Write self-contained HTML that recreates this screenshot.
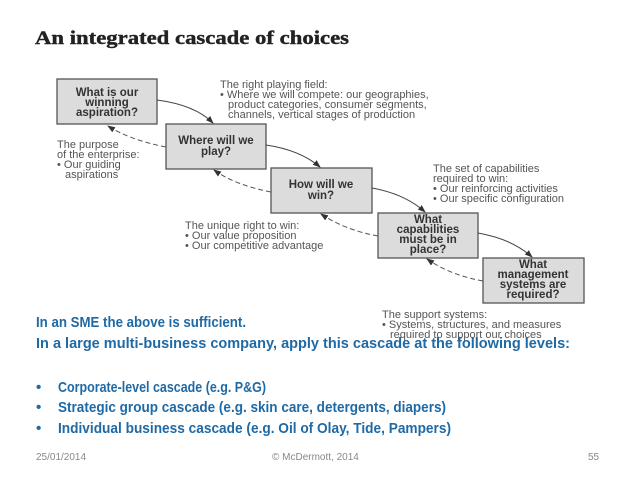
<!DOCTYPE html>
<html><head><meta charset="utf-8"><style>
html,body{margin:0;padding:0;background:#fff;}
svg{display:block}
.a{font-family:"Liberation Sans",sans-serif;font-size:11px;fill:#555;}
.b{font-family:"Liberation Sans",sans-serif;font-size:11.5px;font-weight:bold;fill:#333;text-anchor:middle;}
.c{font-family:"Liberation Sans",sans-serif;font-size:15px;font-weight:bold;fill:#1f6aa5;}
.f{font-family:"Liberation Sans",sans-serif;font-size:10px;fill:#888;}
</style></head><body>
<svg width="638" height="479" viewBox="0 0 638 479" xmlns="http://www.w3.org/2000/svg">
<defs><marker id="m" markerWidth="8" markerHeight="8" refX="7" refY="4" orient="auto" markerUnits="userSpaceOnUse"><path d="M0,1 L8,4 L0,7 z" fill="#333"/></marker></defs>
<text x="35" y="44" font-family="Liberation Serif,serif" font-weight="bold" font-size="19" fill="#222" textLength="314" lengthAdjust="spacingAndGlyphs" stroke="#222" stroke-width="0.4">An integrated cascade of choices</text>
<g fill="#dcdcdc" stroke="#555" stroke-width="1.3">
<rect x="57" y="79" width="100" height="45"/>
<rect x="166" y="124" width="100" height="45"/>
<rect x="271" y="168" width="101" height="45"/>
<rect x="378" y="213" width="100" height="45"/>
<rect x="483" y="258" width="101" height="45"/>
</g>
<g class="b">
<text x="107" y="96">What is our</text><text x="107" y="106">winning</text><text x="107" y="116">aspiration?</text>
<text x="216" y="144">Where will we</text><text x="216" y="155">play?</text>
<text x="321" y="188">How will we</text><text x="321" y="199">win?</text>
<text x="428" y="223">What</text><text x="428" y="233">capabilities</text><text x="428" y="243">must be in</text><text x="428" y="253">place?</text>
<text x="533" y="268">What</text><text x="533" y="278">management</text><text x="533" y="288">systems are</text><text x="533" y="298">required?</text>
</g>
<g fill="none" stroke="#444" stroke-width="1">
<path d="M157,100 Q195,105 213,123" marker-end="url(#m)"/>
<path d="M266,145 Q300,150 320,167" marker-end="url(#m)"/>
<path d="M372,188 Q405,194 425,212" marker-end="url(#m)"/>
<path d="M478,233 Q512,239 532,257" marker-end="url(#m)"/>
</g>
<g fill="none" stroke="#555" stroke-width="1" stroke-dasharray="5,3">
<path d="M166,147 Q130,140 108,126" marker-end="url(#m)"/>
<path d="M271,192 Q235,185 214,170" marker-end="url(#m)"/>
<path d="M378,236 Q345,230 321,214" marker-end="url(#m)"/>
<path d="M483,281 Q450,275 427,259" marker-end="url(#m)"/>
</g>
<g class="a">
<text x="220" y="88">The right playing field:</text>
<text x="220" y="98">• Where we will compete: our geographies,</text>
<text x="228" y="108">product categories, consumer segments,</text>
<text x="228" y="118">channels, vertical stages of production</text>
<text x="57" y="148">The purpose</text>
<text x="57" y="158">of the enterprise:</text>
<text x="57" y="168">• Our guiding</text>
<text x="65" y="178">aspirations</text>
<text x="433" y="172">The set of capabilities</text>
<text x="433" y="182">required to win:</text>
<text x="433" y="192">• Our reinforcing activities</text>
<text x="433" y="202">• Our specific configuration</text>
<text x="185" y="229">The unique right to win:</text>
<text x="185" y="239">• Our value proposition</text>
<text x="185" y="249">• Our competitive advantage</text>
<text x="382" y="318">The support systems:</text>
<text x="382" y="328">• Systems, structures, and measures</text>
<text x="390" y="338">required to support our choices</text>
</g>
<text class="c" x="36" y="327" textLength="210" lengthAdjust="spacingAndGlyphs">In an SME the above is sufficient.</text>
<text class="c" x="36" y="348" textLength="534" lengthAdjust="spacingAndGlyphs">In a large multi-business company, apply this cascade at the following levels:</text>
<text class="c" x="36" y="392">•</text><text class="c" x="58" y="392" textLength="208" lengthAdjust="spacingAndGlyphs">Corporate-level cascade (e.g. P&amp;G)</text>
<text class="c" x="36" y="412">•</text><text class="c" x="58" y="412" textLength="388" lengthAdjust="spacingAndGlyphs">Strategic group cascade (e.g. skin care, detergents, diapers)</text>
<text class="c" x="36" y="433">•</text><text class="c" x="58" y="433" textLength="393" lengthAdjust="spacingAndGlyphs">Individual business cascade (e.g. Oil of Olay, Tide, Pampers)</text>
<text class="f" x="36" y="460">25/01/2014</text>
<text class="f" x="272" y="460">© McDermott, 2014</text>
<text class="f" x="588" y="460">55</text>
</svg>
</body></html>
